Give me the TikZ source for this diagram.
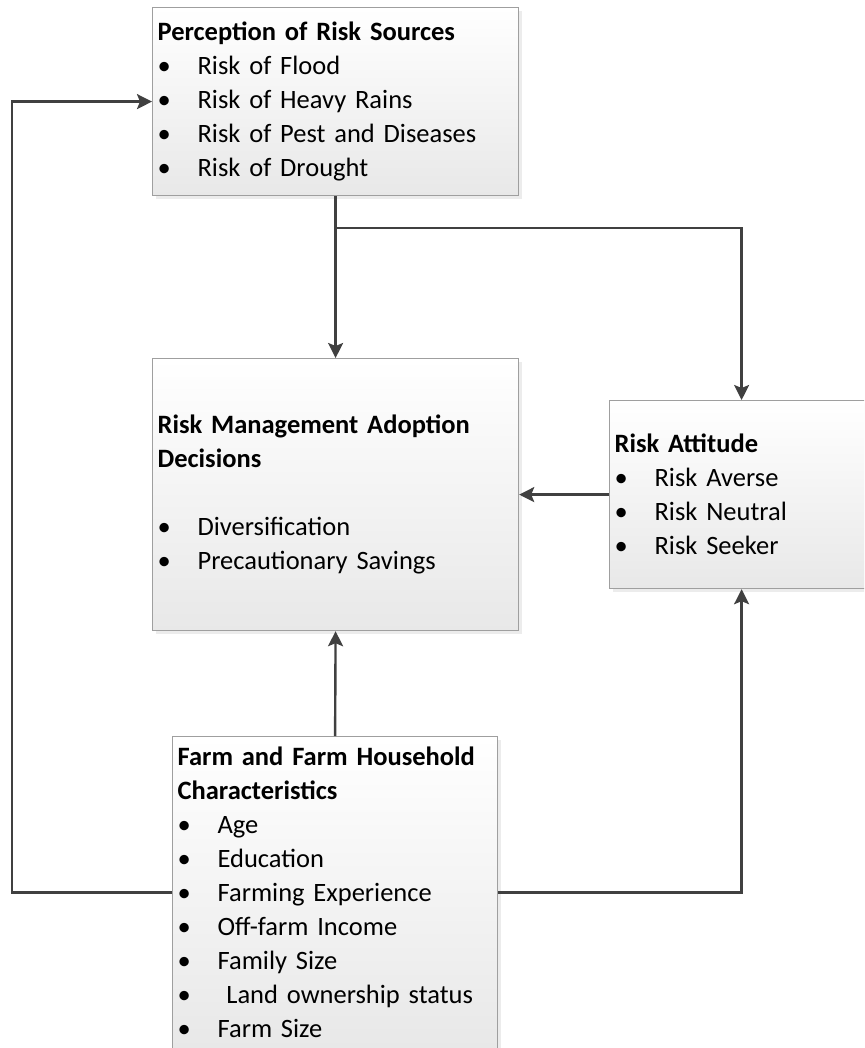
\documentclass[tikz,border=0pt]{standalone}
\usepackage{fontspec}
\setmainfont{Carlito}
\usetikzlibrary{arrows.meta,shadows}
\newcommand{\itm}[1]{\makebox[40pt][l]{\textbullet}#1}
\DeclareRobustCommand{\boxfont}{\fontsize{26.5}{34}\selectfont\spaceskip=0.19em\relax}

\begin{document}
\begin{tikzpicture}[x=1pt,y=-1pt,
		box/.style={draw=gray!75,line width=1.2pt,top color=white,bottom color=black!9,
			drop shadow={opacity=0.15,shadow xshift=3pt,shadow yshift=-3pt},
			anchor=north west,inner xsep=5pt,inner ysep=0pt,align=left,
			font=\boxfont},
		conn/.style={draw=black!75,line width=2.4pt,-{Stealth[length=15pt,width=15pt,inset=3pt]}}]
		\useasboundingbox(0,0)rectangle(864,1048);
		\clip(0,0)rectangle(864,1048);
		\node[box,minimum width=366pt,minimum height=188pt,text width=356pt](perc)at(152,7){%
			\textbf{Perception of Risk Sources}\\
			\itm{Risk of Flood}\\
			\itm{Risk of Heavy Rains}\\
			\itm{Risk of Pest and Diseases}\\
			\itm{Risk of Drought}};
		\node[box,minimum width=366pt,minimum height=272pt,text width=356pt](decide)at(152,358){%
			\textbf{Risk Management Adoption}\\
			\textbf{Decisions}\\[34pt]
			\itm{Diversification}\\
			\itm{Precautionary Savings}};
		\node[box,minimum width=264pt,minimum height=188pt,text width=254pt](attit)at(609,400){%
			\textbf{Risk Attitude}\\
			\itm{Risk Averse}\\
			\itm{Risk Neutral}\\
			\itm{Risk Seeker}};
		\node[box,minimum width=325pt,minimum height=312pt,text width=315pt](farm)at(172,736){%
			\textbf{Farm and Farm Household}\\
			\textbf{Characteristics}\\
			\itm{Age}\\
			\itm{Education}\\
			\itm{Farming Experience}\\
			\itm{Off-farm Income}\\
			\itm{Family Size}\\
			\itm{\ Land ownership status}\\
			\itm{Farm Size}};
		\coordinate(split)at([yshift=-32pt]perc.south);
		\draw[conn](perc.south)--(decide.north);
		\draw[conn](split)-|(attit.north);
		\draw[conn](attit.west)--(decide.east);
		\draw[conn](farm.north)--(decide.south);
		\draw[conn](farm.west)-|([xshift=-140pt]perc.west)--(perc.west);
		\draw[conn](farm.east)-|(attit.south);
	\end{tikzpicture}
\end{document}
